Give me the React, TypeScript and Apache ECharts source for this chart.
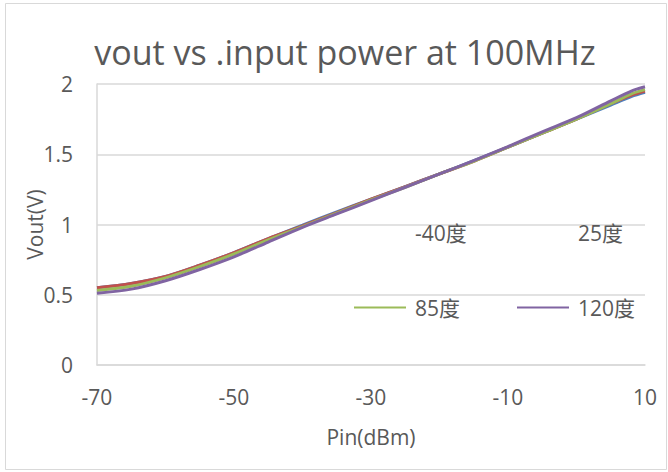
import React, { useEffect, useRef } from "react";
import * as echarts from "echarts";

const pin = [-70, -65, -60, -55, -50, -45, -40, -35, -30, -25, -20, -15, -10, -5, 0, 5, 8, 10];
const vM40 = [0.55, 0.58, 0.63, 0.71, 0.8, 0.9, 0.995, 1.09, 1.18, 1.27, 1.36, 1.455, 1.55, 1.65, 1.75, 1.85, 1.91, 1.94];
const v25 = [0.55, 0.58, 0.63, 0.71, 0.8, 0.9, 0.99, 1.085, 1.18, 1.27, 1.36, 1.45, 1.55, 1.65, 1.75, 1.86, 1.92, 1.95];
const v85 = [0.53, 0.56, 0.62, 0.7, 0.79, 0.89, 0.985, 1.08, 1.175, 1.265, 1.36, 1.45, 1.55, 1.65, 1.75, 1.86, 1.93, 1.96];
const v120 = [0.51, 0.54, 0.6, 0.68, 0.77, 0.875, 0.98, 1.075, 1.17, 1.265, 1.36, 1.455, 1.555, 1.66, 1.76, 1.88, 1.95, 1.98];

const seriesNames = ["-40度", "25度", "85度", "120度"];
const seriesValues = [vM40, v25, v85, v120];
const seriesColors = ["#4F81BD", "#C0504D", "#9BBB59", "#8064A2"];

const FONT = "'Open Sans', 'Noto Sans CJK SC', sans-serif";
const TXT = "#595959";

export default function App() {
  const ref = useRef<HTMLDivElement>(null);
  useEffect(() => {
    if (!ref.current) return;
    const chart = echarts.init(ref.current, undefined, { renderer: "svg" });
    const legendPos = [
      { left: 353, top: 222, hide: true },
      { left: 516, top: 222, hide: true },
      { left: 353, top: 297, hide: false },
      { left: 516, top: 297, hide: false },
    ];
    chart.setOption({
      animation: false,
      backgroundColor: "#ffffff",
      textStyle: { fontFamily: FONT },
      title: {
        text: "vout vs .input power at 100MHz",
        left: 340,
        textAlign: "center",
        top: 30,
        textStyle: { fontFamily: FONT, fontSize: 34, fontWeight: "normal", color: TXT },
      },
      graphic: [
        {
          type: "rect",
          shape: { x: 5.5, y: 3.5, width: 661, height: 466 },
          style: { fill: "none", stroke: "#D9D9D9", lineWidth: 1 },
          silent: true,
        },
      ],
      legend: seriesNames.map((n, i) => ({
        data: [
          legendPos[i].hide
            ? { name: n, itemStyle: { opacity: 0 }, lineStyle: { opacity: 0 } }
            : { name: n, itemStyle: { opacity: 0 } },
        ],
        left: legendPos[i].left,
        top: legendPos[i].top,
        padding: 0,
        itemWidth: 52,
        itemHeight: 20,
        textStyle: { fontFamily: FONT, fontSize: 21, color: TXT, padding: [0, 0, 0, 4] },
      })),
      grid: { left: 97, right: 23, top: 84, bottom: 107 },
      xAxis: {
        type: "value",
        min: -70,
        max: 10,
        interval: 20,
        name: "Pin(dBm)",
        nameLocation: "middle",
        nameGap: 61,
        nameMoveOverlap: false,
        nameTextStyle: { fontFamily: FONT, fontSize: 21, color: TXT },
        axisLine: { show: true, onZero: false, lineStyle: { color: "#D9D9D9", width: 1.5 } },
        axisTick: { show: false },
        splitLine: { show: false },
        axisLabel: { fontFamily: FONT, fontSize: 21, color: TXT, margin: 21 },
      },
      yAxis: {
        type: "value",
        min: 0,
        max: 2,
        interval: 0.5,
        name: "Vout(V)",
        nameLocation: "middle",
        nameGap: 52,
        nameMoveOverlap: false,
        nameTextStyle: { fontFamily: FONT, fontSize: 21, color: TXT },
        axisLine: { show: true, onZero: false, lineStyle: { color: "#D9D9D9", width: 1.5 } },
        axisTick: { show: false },
        splitLine: { show: true, lineStyle: { color: "#D9D9D9", width: 1.5 } },
        axisLabel: { fontFamily: FONT, fontSize: 21, color: TXT, margin: 24 },
      },
      series: seriesNames.map((n, i) => ({
        name: n,
        type: "line",
        smooth: 0.3,
        symbol: "none",
        data: pin.map((x, j) => [x, seriesValues[i][j]]),
        lineStyle: { color: seriesColors[i], width: 3 },
        itemStyle: { color: seriesColors[i] },
      })),
    });
    return () => chart.dispose();
  }, []);
  return (
    <div
      ref={ref}
      style={{ position: "absolute", left: 0, top: 0, width: 668, height: 472 }}
    />
  );
}
